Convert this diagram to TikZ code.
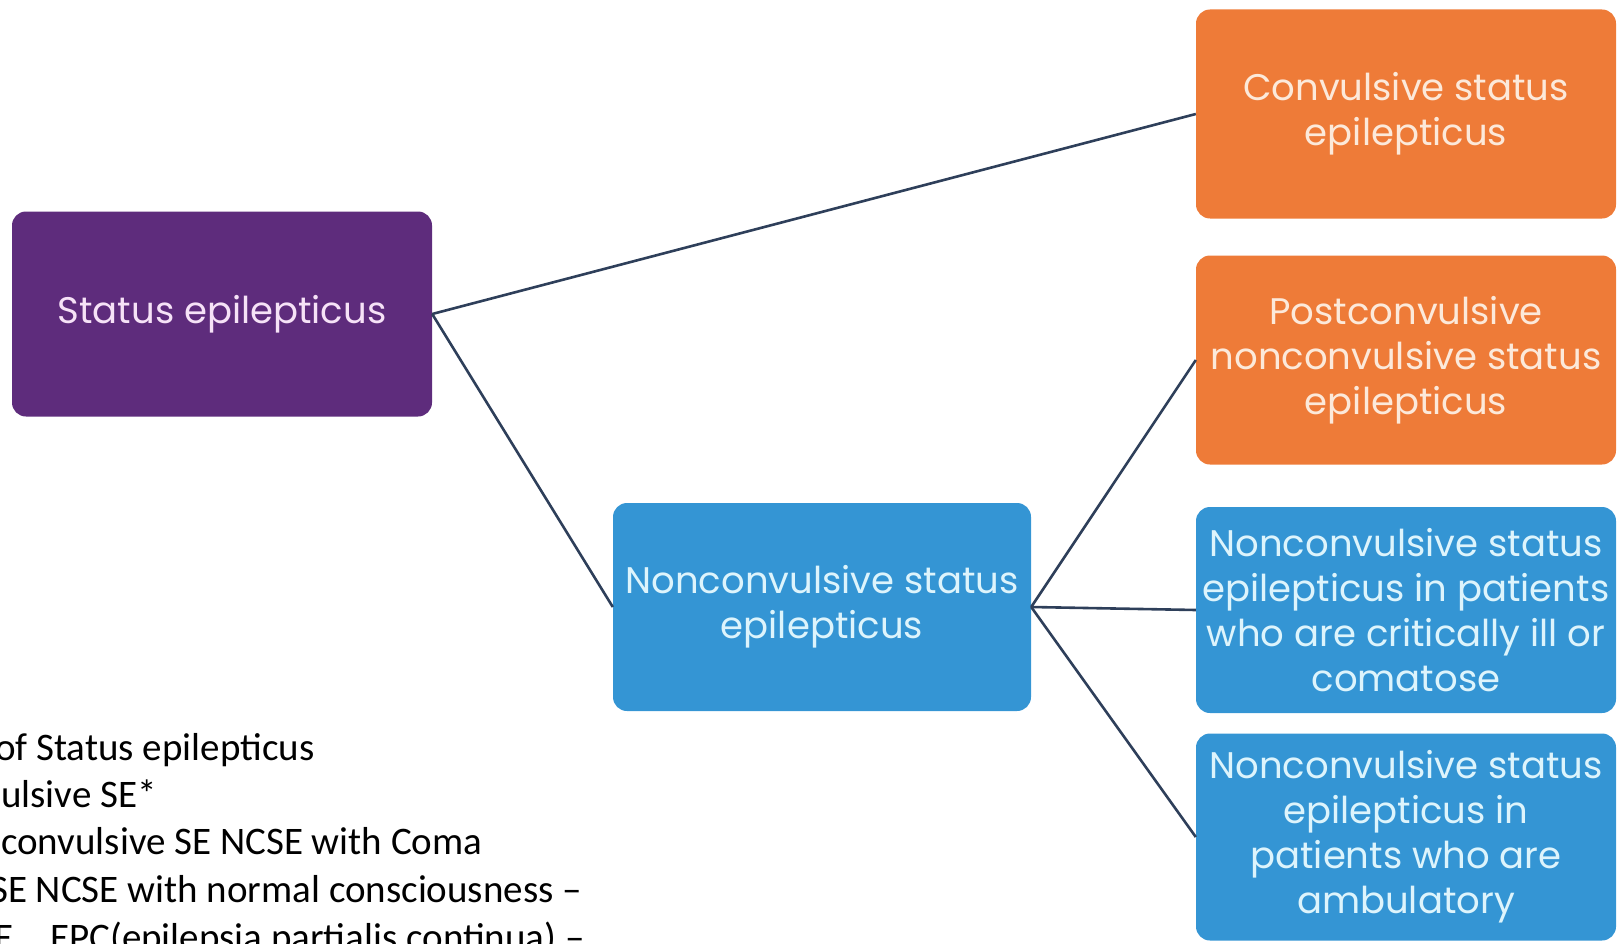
\documentclass[tikz,border=0pt]{standalone}
\usepackage{fontspec}
\usepackage{tikz}
\setmainfont{Carlito}
\newfontfamily\boxfont{Poppins}
\definecolor{sepurple}{HTML}{5E2C7C}
\definecolor{seorange}{HTML}{EE7B38}
\definecolor{seblue}{HTML}{3495D4}
\definecolor{seline}{HTML}{2E3F5A}
\definecolor{pinktext}{HTML}{F6E2F7}
\definecolor{creamtext}{HTML}{FCE9DA}
\definecolor{cyantext}{HTML}{DDF4FC}
\tikzset{box/.style = {shape=rectangle, rounded corners=14pt, minimum width=420pt, minimum height=207pt, align=center, inner sep=0pt, font=\boxfont\fontsize{37}{45}\selectfont}}
\tikzset{purplebox/.style = {box, fill=sepurple, text=pinktext, minimum height=205pt}}
\tikzset{orangebox/.style = {box, fill=seorange, text=creamtext}}
\tikzset{bluebox/.style = {box, fill=seblue, text=cyantext}}
\tikzset{edge/.style = {-, draw=seline, line width=2.6pt}}
\tikzset{note/.style = {anchor=base west, inner sep=0pt, font=\fontsize{39}{48}\selectfont}}

\begin{document}
\begin{tikzpicture}[x=1pt,y=-1pt]
\useasboundingbox (0,0) rectangle (1621,944);
\clip (0,0) rectangle (1621,944);
% vertices
\node[purplebox] (se) at (222,314) {Status epilepticus};
\node[bluebox, minimum width=418pt, minimum height=208pt] (ncse) at (822,607) {Nonconvulsive status\\epilepticus};
\node[orangebox, minimum height=209pt] (cse) at (1406,114) {Convulsive status\\epilepticus};
\node[orangebox, minimum height=209pt] (pcn) at (1406,360) {Postconvulsive\\nonconvulsive status\\epilepticus};
\node[bluebox, minimum height=206pt] (crit) at (1406,610) {Nonconvulsive status\\epilepticus in patients\\who are critically ill or\\comatose};
\node[bluebox] (amb) at (1406,837) {Nonconvulsive status\\epilepticus in\\patients who are\\ambulatory};
%edges
\draw[edge] (se.east) to (cse.west);
\draw[edge] (se.east) to (ncse.west);
\draw[edge] (ncse.east) to (pcn.west);
\draw[edge] (ncse.east) to (crit.west);
\draw[edge] (ncse.east) to (amb.west);
% notes
\node[note] (note1) at (-5,760) {of Status epilepticus};
\node[note] (note2) at (1,807) {ulsive SE*};
\node[note] (note3) at (1,854) {convulsive SE NCSE with Coma};
\node[note] (note4) at (-10,902) {SE NCSE with normal consciousness --};
\node[note] (note5) at (-6,950) {E\hspace{37pt}EPC(epilepsia partialis continua) --};
\end{tikzpicture}
\end{document}
